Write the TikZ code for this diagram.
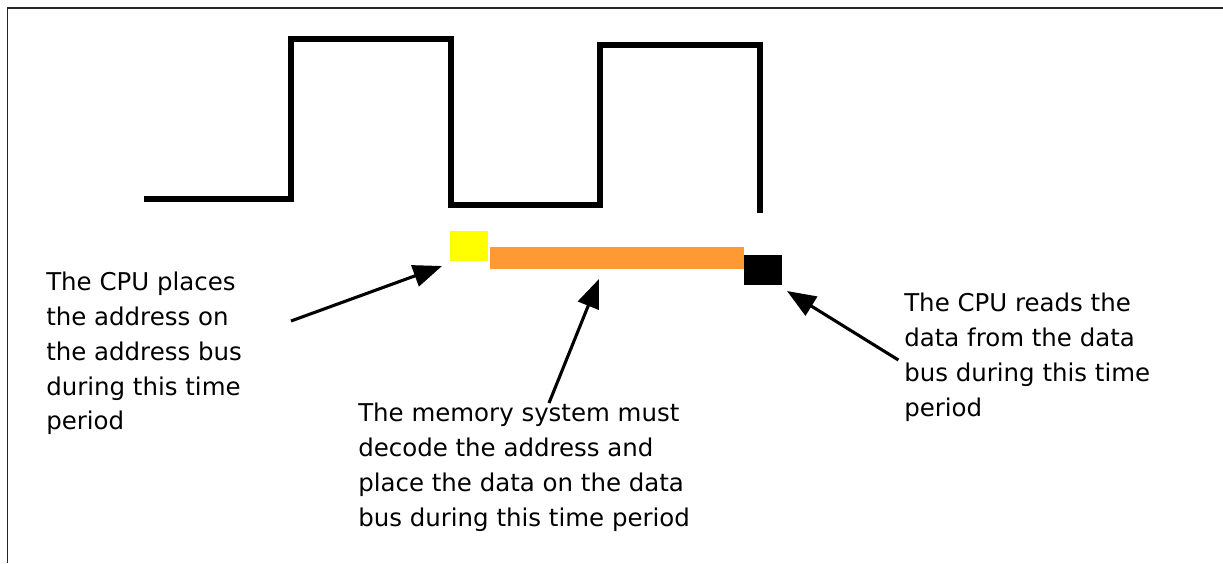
\documentclass[tikz,border=0pt]{standalone}
\usepackage{fontspec}
\setmainfont{DejaVu Sans}
\usetikzlibrary{arrows.meta}
\definecolor{addryellow}{RGB}{255,255,0}
\definecolor{busorange}{RGB}{255,153,51}

\begin{document}
\begin{tikzpicture}[
  note/.style={anchor=north west,inner sep=0pt,align=left,
               font=\fontsize{17.4pt}{24.7pt}\selectfont},
  slot/.style={rectangle,inner sep=0pt,outer sep=0pt},
  ptr/.style={-{Triangle[length=0.72cm,width=0.55cm]},line width=2.2pt}]
\useasboundingbox (0,0) rectangle (30.575,-14.075);
\draw[line width=1pt,black!85] (30.575,-0.2) -- (0.19,-0.2) -- (0.19,-14.075);
% clock
\draw[line width=4.3pt] (3.6,-4.975) -- (7.275,-4.975) -- (7.275,-0.975) -- (11.275,-0.975)
  -- (11.275,-5.125) -- (15,-5.125) -- (15,-1.125) -- (19,-1.125) -- (19,-5.325);
% bus phases
\node[slot,fill=addryellow,minimum width=0.95cm,minimum height=0.75cm] (addr)   at (11.725,-6.15) {};
\node[slot,fill=busorange,minimum width=6.35cm,minimum height=0.55cm]  (decode) at (15.425,-6.45) {};
\node[slot,fill=black,minimum width=0.95cm,minimum height=0.75cm]      (read)   at (19.075,-6.75) {};
% notes
\node[note] (placeaddr) at (1.15,-6.8)   {The CPU places\\the address on\\the address bus\\during this time\\period};
\node[note] (memsys)    at (8.95,-10.075) {The memory system must\\decode the address and\\place the data on the data\\bus during this time period};
\node[note] (readdata)  at (22.6,-7.325)  {The CPU reads the\\data from the data\\bus during this time\\period};
\coordinate (placetail) at (7.275,-8.025);
\coordinate (memtail)   at (13.725,-10.075);
\coordinate (readtail)  at (22.46,-9.0);
\draw[ptr] (placetail) -- ([xshift=-0.2cm,yshift=-0.125cm]addr.south west);
\draw[ptr] (memtail)   -- ([xshift=-0.45cm,yshift=-0.25cm]decode.south);
\draw[ptr] (readtail)  -- ([xshift=0.125cm,yshift=-0.15cm]read.south east);
\end{tikzpicture}
\end{document}
